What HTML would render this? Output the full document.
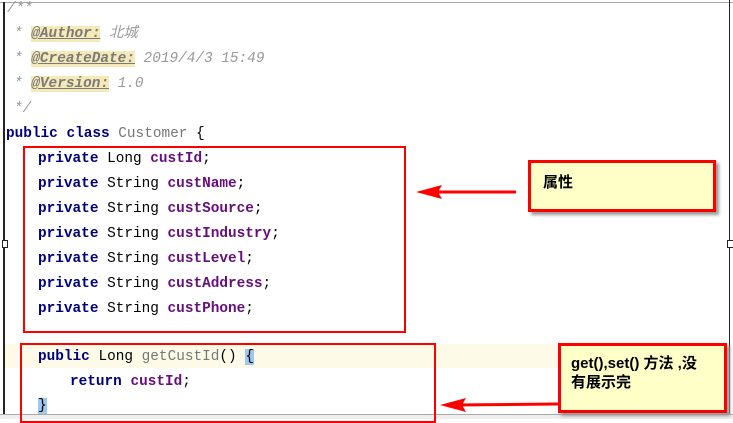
<!DOCTYPE html>
<html><head><meta charset="utf-8"><style>
body{margin:0;width:733px;height:418px;background:#fff;position:relative;overflow:hidden;font-family:"Liberation Mono","Noto Sans CJK SC",monospace;font-size:14.4px;}
.l{position:absolute;white-space:pre;line-height:20px;}
.c{color:#999;font-style:italic}
.tag{background:#f5e9b8;color:#7a7a7a;font-weight:bold;text-decoration:underline;font-style:italic}
.k{color:#00007f;font-weight:bold}
.f{color:#660e7a;font-weight:bold}
.g{color:#777}
.box{position:absolute;border:2px solid #f00;box-sizing:border-box}
.note{position:absolute;background:#ffffc8;border:3px solid #f00;box-sizing:border-box;box-shadow:3px 3px 3px #999;font-family:"Liberation Sans","Noto Sans CJK SC",sans-serif;font-weight:bold;font-size:15px;color:#000}
</style></head><body>
<div style="position:absolute;left:0;top:2px;width:733px;height:1px;background:#aaa"></div>
<div style="position:absolute;left:3px;top:2px;width:2px;height:416px;background:#222"></div>
<div style="position:absolute;left:729px;top:0;width:1px;height:418px;background:#222"></div>
<div style="position:absolute;left:727px;top:240px;width:5px;height:6px;border:1px solid #222;background:#fff"></div>
<div style="position:absolute;left:2px;top:240px;width:4px;height:6px;border:1px solid #222;background:#fff"></div>
<div style="position:absolute;left:5px;top:344px;width:724px;height:24px;background:#fdfbe8"></div>
<div style="position:absolute;left:0;top:414px;width:733px;height:4px;background:#eee;border-top:1px solid #aaa"></div>
<div class="l c" style="left:7px;top:-1px">/**</div>
<div class="l c" style="left:14px;top:24px">* <span class="tag">@Author:</span> 北城</div>
<div class="l c" style="left:14px;top:49px">* <span class="tag">@CreateDate:</span> 2019/4/3 15:49</div>
<div class="l c" style="left:14px;top:74px">* <span class="tag">@Version:</span> 1.0</div>
<div class="l c" style="left:14px;top:99px">*/</div>
<div class="l" style="left:6px;top:124px"><span class="k">public class</span> <span class="g">Customer</span> {</div>
<div class="l" style="left:38px;top:149px"><span class="k">private</span> Long <span class="f">custId</span>;</div>
<div class="l" style="left:38px;top:174px"><span class="k">private</span> String <span class="f">custName</span>;</div>
<div class="l" style="left:38px;top:199px"><span class="k">private</span> String <span class="f">custSource</span>;</div>
<div class="l" style="left:38px;top:224px"><span class="k">private</span> String <span class="f">custIndustry</span>;</div>
<div class="l" style="left:38px;top:249px"><span class="k">private</span> String <span class="f">custLevel</span>;</div>
<div class="l" style="left:38px;top:274px"><span class="k">private</span> String <span class="f">custAddress</span>;</div>
<div class="l" style="left:38px;top:299px"><span class="k">private</span> String <span class="f">custPhone</span>;</div>
<div class="l" style="left:38px;top:347px"><span class="k">public</span> Long <span class="g">getCustId</span>() <span style="background:#9cc8f0">{</span></div>
<div class="l" style="left:70px;top:372px"><span class="k">return</span> <span class="f">custId</span>;</div>
<div class="l" style="left:38px;top:396px"><span style="background:#9cc8f0">}</span></div>
<div class="box" style="left:23px;top:146px;width:383px;height:187px"></div>
<div class="box" style="left:20px;top:343px;width:416px;height:80px"></div>
<div class="note" style="left:528px;top:160px;width:188px;height:52px;padding:8px 0 0 12px">属性</div>
<div class="note" style="left:558px;top:343px;width:169px;height:70px;padding:8px 0 0 10px;line-height:19px"><div style="width:148px">get(),set() 方法 ,没<br>有展示完</div></div>
<svg style="position:absolute;left:0;top:0" width="733" height="418">
<line x1="516" y1="192" x2="430" y2="192" stroke="#f00" stroke-width="3"/>
<polygon points="416,192 442,185 438,192 442,199" fill="#f00"/>
<line x1="558" y1="404" x2="455" y2="405" stroke="#f00" stroke-width="3"/>
<polygon points="440,405 466,398 462,405 466,412" fill="#f00"/>
</svg>
</body></html>
